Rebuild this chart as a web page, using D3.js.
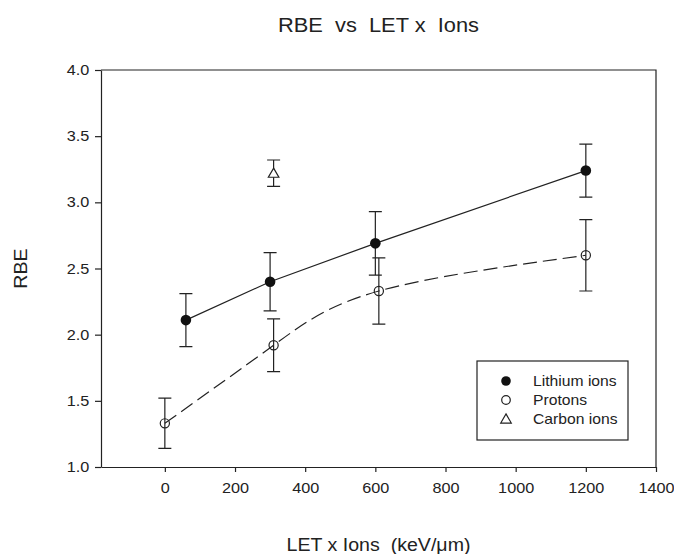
<!DOCTYPE html>
<html>
<head>
<meta charset="utf-8">
<script src="https://cdn.jsdelivr.net/npm/d3@7"></script>
<style>
  body { margin: 0; background: #fff; }
  svg { display: block; font-family: 'Liberation Sans', Arial, sans-serif; }
</style>
</head>
<body>
<div class="viz"></div>
<script>
// data
const lithiumLET = [60, 300, 600, 1200];
const lithiumRBE = [2.11, 2.40, 2.69, 3.24];
const lithiumErr = [0.20, 0.22, 0.24, 0.20];

const protonLET = [0, 310, 610, 1200];
const protonRBE = [1.33, 1.92, 2.33, 2.60];
const protonErr = [0.19, 0.20, 0.25, 0.27];

const carbonLET = [310];
const carbonRBE = [3.22];
const carbonErr = [0.10];

const xTicks = [0, 200, 400, 600, 800, 1000, 1200, 1400];
const yTicks = [1.0, 1.5, 2.0, 2.5, 3.0, 3.5, 4.0];
const seriesNames = ['Lithium ions', 'Protons', 'Carbon ions'];

const width = 674, height = 554;
const margin = { top: 70, right: 18, bottom: 87, left: 101 };
const ink = '#222';
const stretch = 1.12; // text in the figure is a bit wider than tall

const zip = (xs, ys, es) => xs.map((d, i) => ({ x: d, y: ys[i], e: es[i] }));
const lithium = zip(lithiumLET, lithiumRBE, lithiumErr);
const protons = zip(protonLET, protonRBE, protonErr);
const carbon = zip(carbonLET, carbonRBE, carbonErr);

const x = d3.scaleLinear().domain([-182, 1400]).range([margin.left, width - margin.right]);
const y = d3.scaleLinear().domain([1, 4]).range([height - margin.bottom, margin.top]);

const svg = d3.select('.viz').append('svg')
  .attr('width', width)
  .attr('height', height);

const label = (px, py, str, size, rotate) => {
  svg.append('text')
    .attr('transform', 'translate(' + px + ',' + py + ')' + (rotate ? ' rotate(-90)' : '') + ' scale(' + stretch + ',1)')
    .attr('text-anchor', 'middle')
    .attr('font-size', size)
    .attr('fill', ink)
    .text(str);
};

// frame (top + right)
svg.append('path')
  .attr('d', 'M' + x.range()[0] + ',' + y(4) + 'H' + x(1400) + 'V' + y(1))
  .attr('fill', 'none')
  .attr('stroke', ink)
  .attr('stroke-width', 1.2);

// axes
const xAxis = svg.append('g')
  .attr('transform', 'translate(0,' + y(1) + ')')
  .call(d3.axisBottom(x).tickValues(xTicks).tickFormat(d3.format('d')).tickSize(5).tickSizeOuter(0).tickPadding(11));
const yAxis = svg.append('g')
  .attr('transform', 'translate(' + margin.left + ',0)')
  .call(d3.axisLeft(y).tickValues(yTicks).tickFormat(d3.format('.1f')).tickSize(6).tickSizeOuter(0).tickPadding(6));

[xAxis, yAxis].forEach(a => {
  a.select('.domain').attr('stroke', ink).attr('stroke-width', 1.2);
  a.selectAll('.tick line').attr('stroke', ink).attr('stroke-width', 1.2);
  a.selectAll('.tick text')
    .attr('fill', ink)
    .attr('font-size', 14.5)
    .attr('font-family', "'Liberation Sans', Arial, sans-serif");
});
xAxis.selectAll('.tick text').attr('transform', 'scale(' + stretch + ',1)');
yAxis.selectAll('.tick text').attr('transform', 'scale(' + stretch + ',1)').attr('x', -10.5);

// titles
label((x.range()[0] + x.range()[1]) / 2, 32, 'RBE\u00a0\u00a0vs\u00a0\u00a0LET x\u00a0\u00a0Ions', 19.5);
label((x.range()[0] + x.range()[1]) / 2, 551, 'LET x Ions\u00a0\u00a0(keV/\u03bcm)', 17.5);
label(27, (y.range()[0] + y.range()[1]) / 2, 'RBE', 17.5, true);

// lines
svg.append('path')
  .datum(lithium)
  .attr('fill', 'none')
  .attr('stroke', ink)
  .attr('stroke-width', 1.2)
  .attr('d', d3.line().x(d => x(d.x)).y(d => y(d.y)));

svg.append('path')
  .datum(protons)
  .attr('fill', 'none')
  .attr('stroke', ink)
  .attr('stroke-width', 1.2)
  .attr('stroke-dasharray', '14,6')
  .attr('d', d3.line().x(d => x(d.x)).y(d => y(d.y)).curve(d3.curveNatural));

// error bars
const cap = 6.5;
const errorBars = data => {
  const g = svg.append('g').attr('stroke', ink).attr('stroke-width', 1.2).attr('fill', 'none');
  data.forEach(d => {
    const cx = x(d.x), top = y(d.y + d.e), bot = y(d.y - d.e);
    g.append('path').attr('d',
      'M' + cx + ',' + top + 'V' + bot +
      'M' + (cx - cap) + ',' + top + 'H' + (cx + cap) +
      'M' + (cx - cap) + ',' + bot + 'H' + (cx + cap));
  });
};
errorBars(lithium);
errorBars(protons);
errorBars(carbon);

// markers
const triangle = d3.symbol().type(d3.symbolTriangle).size(48);

svg.selectAll('.lith').data(lithium).enter().append('circle')
  .attr('cx', d => x(d.x)).attr('cy', d => y(d.y)).attr('r', 5.3)
  .attr('fill', '#111');

svg.selectAll('.prot').data(protons).enter().append('circle')
  .attr('cx', d => x(d.x)).attr('cy', d => y(d.y)).attr('r', 4.6)
  .attr('fill', 'none').attr('stroke', ink).attr('stroke-width', 1.2);

svg.selectAll('.carb').data(carbon).enter().append('path')
  .attr('d', triangle)
  .attr('transform', d => 'translate(' + x(d.x) + ',' + (y(d.y) + 1) + ')')
  .attr('fill', '#fff').attr('stroke', ink).attr('stroke-width', 1.2);

// legend
const legend = svg.append('g').attr('transform', 'translate(477,361)');
legend.append('rect')
  .attr('width', 151).attr('height', 79)
  .attr('fill', '#fff').attr('stroke', ink).attr('stroke-width', 1.2);

const rows = legend.selectAll('.row').data(seriesNames).enter().append('g')
  .attr('transform', (d, i) => 'translate(0,' + (20 + i * 19) + ')');

rows.each(function(d, i) {
  const r = d3.select(this);
  if (i === 0) r.append('circle').attr('cx', 29).attr('r', 4.8).attr('fill', '#111');
  if (i === 1) r.append('circle').attr('cx', 29).attr('r', 4.3).attr('fill', 'none').attr('stroke', ink).attr('stroke-width', 1.2);
  if (i === 2) r.append('path').attr('d', triangle).attr('transform', 'translate(29,1)').attr('fill', 'none').attr('stroke', ink).attr('stroke-width', 1.2);
  r.append('text')
    .attr('transform', 'translate(56,5) scale(' + stretch + ',1)')
    .attr('font-size', 14)
    .attr('fill', ink)
    .text(d);
});
</script>
</body>
</html>
